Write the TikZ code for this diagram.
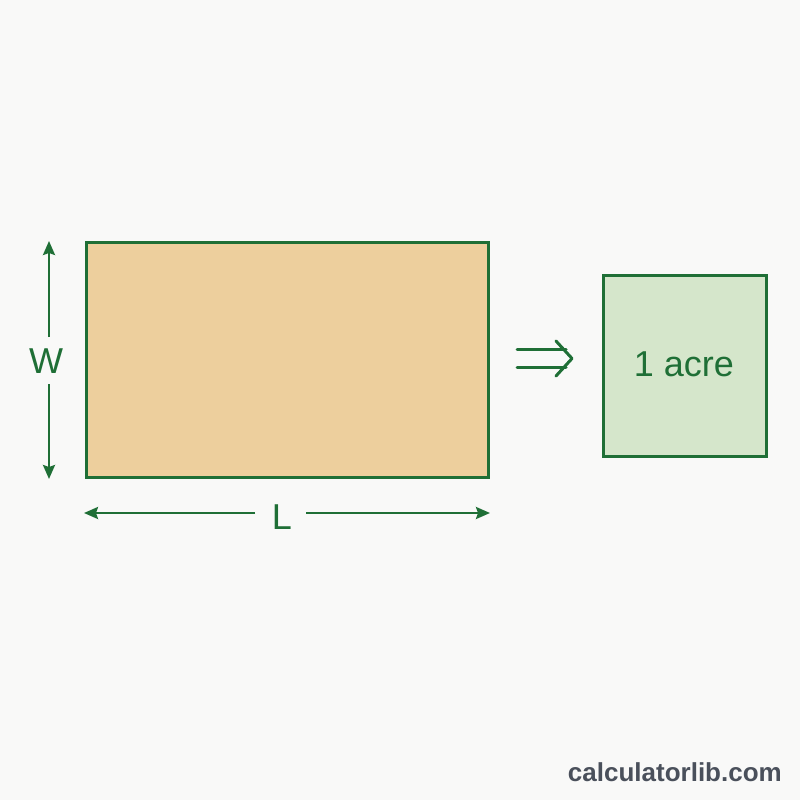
\documentclass[tikz,border=0pt]{standalone}
\usepackage{fontspec}
\setmainfont{Liberation Sans}
\usetikzlibrary{arrows.meta}
\definecolor{bg}{HTML}{F9F9F8}
\definecolor{dgreen}{HTML}{1F6F36}
\definecolor{sand}{HTML}{EDCF9D}
\definecolor{lgreen}{HTML}{D5E6CB}
\definecolor{wm}{HTML}{4A505B}
\tikzset{
  box/.style={draw=dgreen, line width=3pt, inner sep=0pt},
  dim/.style={draw=dgreen, line width=2.4pt, -{Stealth[length=14pt,width=12pt,inset=2pt]}},
  lbl/.style={text=dgreen, font=\fontsize{36}{40}\selectfont, inner sep=0pt},
  dbl/.style={draw=dgreen, line width=3pt, line cap=round, line join=round}
}
\begin{document}
\begin{tikzpicture}[x=1pt,y=-1pt]
\fill[bg] (0,0) rectangle (800,800);
\useasboundingbox (0,0) rectangle (800,800);
% main rectangle
\node[box, fill=sand, minimum width=402pt, minimum height=235pt] (field) at (287,359.5) {};
% acre square
\node[box, fill=lgreen, minimum width=163pt, minimum height=181pt] (acre) at (684.5,365.5) {};
\node[lbl] (acretxt) at (684,364) {1 acre};
% W dimension
\coordinate (wtop) at (49,241);
\coordinate (wbot) at (49,479);
\node[lbl] (w) at (46,361) {W};
\coordinate (wgt) at (49,337);
\coordinate (wgb) at (49,384);
\draw[dim] (wgt) -- (wtop);
\draw[dim] (wgb) -- (wbot);
% L dimension
\coordinate (lleft) at (84,513);
\coordinate (lright) at (490,513);
\node[lbl] (l) at (282,517) {L};
\coordinate (lgl) at (255,513);
\coordinate (lgr) at (306,513);
\draw[dim] (lgl) -- (lleft);
\draw[dim] (lgr) -- (lright);
% double arrow
\coordinate (d1a) at (517,349.5);
\coordinate (d1b) at (566,349.5);
\coordinate (d2a) at (517,367.5);
\coordinate (d2b) at (566,367.5);
\coordinate (dtip) at (572,358.5);
\coordinate (dtop) at (556,341);
\coordinate (dbot) at (556,376);
\draw[dbl] (d1a) -- (d1b);
\draw[dbl] (d2a) -- (d2b);
\draw[dbl] (dtop) -- (dtip) -- (dbot);
% watermark
\node[anchor=east, text=wm, font=\bfseries\fontsize{26}{30}\selectfont, inner sep=0pt] (mark) at (782,772) {calculatorlib.com};
\end{tikzpicture}
\end{document}
